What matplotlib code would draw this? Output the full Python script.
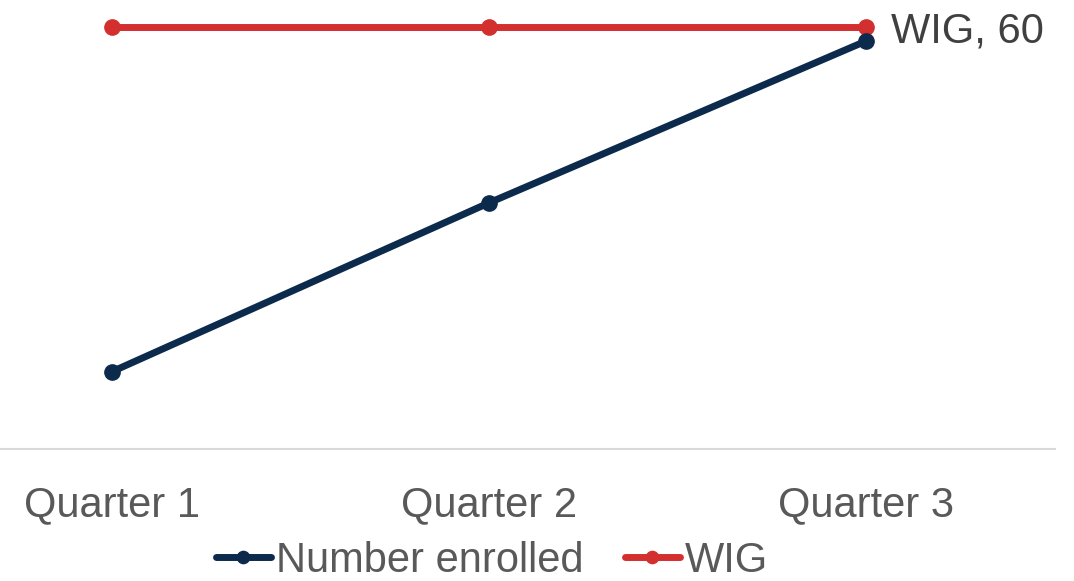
import matplotlib.pyplot as plt

plt.rcParams['font.family'] = ['Liberation Sans', 'DejaVu Sans']

# Quarterly enrolment against the WIG target
quarters = ['Quarter 1', 'Quarter 2', 'Quarter 3']
enrolled = [11, 35, 58]
wig = [60, 60, 60]

NAVY = '#0c2a4b'
RED = '#d32f2f'
GRAY_TEXT = '#595959'

fig = plt.figure(figsize=(10.74, 5.81), dpi=100)
# plot area is wider than the canvas on the left, so the first band is clipped
ax = fig.add_axes([-76.5 / 1074, 132 / 581, 1131 / 1074, 449 / 581])

x = range(len(quarters))
ax.plot(x, enrolled, color=NAVY, linewidth=5, marker='o', markersize=11,
        label='Number enrolled', clip_on=False, solid_capstyle='round', zorder=3)
ax.plot(x, wig, color=RED, linewidth=5, marker='o', markersize=11,
        label='WIG', clip_on=False, solid_capstyle='round', zorder=2)

# label on the last WIG point
ax.annotate(f'WIG, {wig[-1]}', xy=(len(quarters) - 1, wig[-1]),
            xytext=(18, -3), textcoords='offset points', va='center', ha='left',
            fontsize=30, color='#404040')

ax.set_xlim(-0.5, len(quarters) - 0.5)
ax.set_ylim(0, 449 / (422 / 60))
ax.set_xticks(list(x))
ax.set_xticklabels(quarters, fontsize=30, color=GRAY_TEXT)
ax.set_yticks([])
ax.tick_params(axis='x', length=0, pad=26)

for side in ['top', 'right', 'left']:
    ax.spines[side].set_visible(False)
ax.spines['bottom'].set_color('#d9d9d9')
ax.spines['bottom'].set_linewidth(1.5)

leg = fig.legend(loc='center', bbox_to_anchor=(492 / 1074, 1 - 561 / 581),
                 ncol=2, frameon=False, fontsize=30, handlelength=1.32,
                 handletextpad=0.12, columnspacing=1.0, markerscale=0.8)
for t in leg.get_texts():
    t.set_color(GRAY_TEXT)

fig.savefig('out.png', dpi=100)
